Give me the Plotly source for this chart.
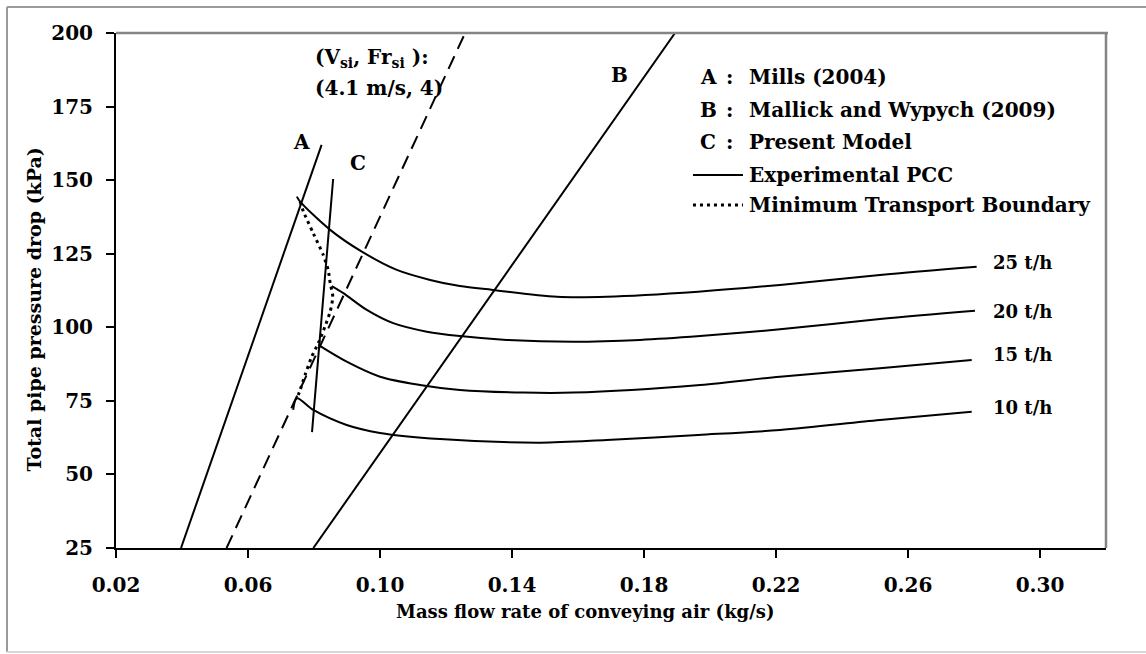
import plotly.graph_objects as go

# Experimental pipeline characteristic curves (mass flow of air kg/s vs total pressure drop kPa)
air_25 = [0.0748, 0.0758, 0.0849, 0.0945, 0.1051, 0.1152, 0.1242, 0.1342, 0.1536, 0.1687, 0.1964, 0.2212, 0.2515, 0.2808]
dp_25 = [144.4, 142.7, 133.1, 125.7, 119.5, 116.1, 114.0, 112.7, 110.4, 110.4, 112.1, 114.4, 117.8, 120.6]

air_20 = [0.0854, 0.0889, 0.0960, 0.1040, 0.1142, 0.1242, 0.1384, 0.1586, 0.1788, 0.1970, 0.2212, 0.2515, 0.2803]
dp_20 = [114.0, 111.6, 105.9, 101.4, 98.5, 97.0, 95.7, 95.1, 95.7, 97.0, 99.3, 102.8, 105.6]

air_15 = [0.0813, 0.0899, 0.1000, 0.1121, 0.1242, 0.1434, 0.1586, 0.1970, 0.2212, 0.2515, 0.2793]
dp_15 = [94.0, 88.3, 83.2, 80.4, 78.7, 77.8, 77.8, 80.4, 83.2, 86.1, 88.9]

air_10 = [0.0737, 0.0748, 0.0798, 0.0899, 0.1000, 0.1182, 0.1485, 0.1687, 0.1964, 0.2212, 0.2515, 0.2793]
dp_10 = [71.9, 75.9, 71.9, 66.8, 64.1, 62.0, 60.8, 61.7, 63.4, 65.1, 68.5, 71.3]

# Minimum transport boundary through the curve minima
mtb_air = [0.0758, 0.0768, 0.0798, 0.0828, 0.0843, 0.0849, 0.0857, 0.0849, 0.0833, 0.0813, 0.0793, 0.0773, 0.0758, 0.0749]
mtb_dp = [142.7, 139.3, 131.9, 124.6, 119.5, 115.0, 110.4, 105.3, 100.2, 94.6, 90.0, 83.8, 78.7, 76.0]

# Boundary lines of the models
line_a_air = [0.0397, 0.0823]
line_a_dp = [25.0, 162.0]
line_b_air = [0.0798, 0.1894]
line_b_dp = [25.0, 200.0]
line_c_air = [0.0794, 0.0858]
line_c_dp = [64.4, 150.4]
froude_air = [0.0535, 0.1258]
froude_dp = [25.0, 200.0]

x_ticks = [0.02, 0.06, 0.10, 0.14, 0.18, 0.22, 0.26, 0.30]
y_ticks = [25, 50, 75, 100, 125, 150, 175, 200]

rate_labels = ["25 t/h", "20 t/h", "15 t/h", "10 t/h"]
rate_label_dp = [121.9, 105.2, 90.6, 72.6]

FONT = "DejaVu Serif"
BLACK = "#000000"


def font(size):
    return dict(family=FONT, size=size, color=BLACK, weight="bold")


fig = go.Figure()

curve_sets = [(air_25, dp_25), (air_20, dp_20), (air_15, dp_15), (air_10, dp_10)]
for ax, dp in curve_sets:
    fig.add_trace(go.Scatter(x=ax, y=dp, mode="lines",
                             line=dict(color=BLACK, width=2, shape="spline", smoothing=0.9),
                             showlegend=False, hoverinfo="skip"))

fig.add_trace(go.Scatter(x=mtb_air, y=mtb_dp, mode="lines",
                         line=dict(color=BLACK, width=3, dash="3px,4px", shape="spline", smoothing=0.6),
                         showlegend=False, hoverinfo="skip"))

for ax, dp in [(line_a_air, line_a_dp), (line_b_air, line_b_dp), (line_c_air, line_c_dp)]:
    fig.add_trace(go.Scatter(x=ax, y=dp, mode="lines", line=dict(color=BLACK, width=2),
                             showlegend=False, hoverinfo="skip"))

fig.add_trace(go.Scatter(x=froude_air, y=froude_dp, mode="lines",
                         line=dict(color=BLACK, width=2, dash="14px,8px"),
                         showlegend=False, hoverinfo="skip"))

annotations = []
# curve labels
for lab, yv in zip(rate_labels, rate_label_dp):
    annotations.append(dict(x=0.2852, y=yv, xref="x", yref="y", text=lab, showarrow=False,
                            xanchor="left", yanchor="middle", font=font(18)))
# model labels
annotations += [
    dict(x=0.0763, y=163.1, text="A", xref="x", yref="y", showarrow=False, font=font(20)),
    dict(x=0.0934, y=155.7, text="C", xref="x", yref="y", showarrow=False, font=font(20)),
    dict(x=0.1727, y=185.7, text="B", xref="x", yref="y", showarrow=False, font=font(20)),
    dict(x=0.0797, y=191.5, text="(V<sub>si</sub>, Fr<sub>si</sub> ):", xref="x", yref="y",
         showarrow=False, xanchor="left", yanchor="middle", font=font(20)),
    dict(x=0.0797, y=181.3, text="(4.1 m/s, 4)", xref="x", yref="y",
         showarrow=False, xanchor="left", yanchor="middle", font=font(20)),
]

# legend block
rows = [("A", "Mills (2004)", 0.9146), ("B", "Mallick and Wypych (2009)", 0.8505),
        ("C", "Present Model", 0.7883)]
for letter, name, py in rows:
    annotations.append(dict(x=0.5879, y=py, xref="paper", yref="paper", text=letter, showarrow=False,
                            xanchor="left", yanchor="middle", font=font(20)))
    annotations.append(dict(x=0.6202, y=py, xref="paper", yref="paper", text=":", showarrow=False,
                            xanchor="center", yanchor="middle", font=font(20)))
    annotations.append(dict(x=0.6374, y=py, xref="paper", yref="paper", text=name, showarrow=False,
                            xanchor="left", yanchor="middle", font=font(20)))
annotations.append(dict(x=0.6374, y=0.7243, xref="paper", yref="paper", text="Experimental PCC",
                        showarrow=False, xanchor="left", yanchor="middle", font=font(20)))
annotations.append(dict(x=0.6374, y=0.6660, xref="paper", yref="paper", text="Minimum Transport Boundary",
                        showarrow=False, xanchor="left", yanchor="middle", font=font(20)))

# axis titles
annotations.append(dict(x=-0.0828, y=0.463, xref="paper", yref="paper",
                        text="Total pipe pressure drop (kPa)", textangle=-90, showarrow=False,
                        xanchor="center", yanchor="middle", font=font(19)))
annotations.append(dict(x=0.474, y=-0.124, xref="paper", yref="paper",
                        text="Mass flow rate of conveying air (kg/s)", showarrow=False,
                        xanchor="center", yanchor="middle", font=font(18)))

shapes = [
    # legend line samples
    dict(type="line", xref="paper", yref="paper", x0=0.5828, x1=0.6333, y0=0.7243, y1=0.7243,
         line=dict(color=BLACK, width=2)),
    dict(type="line", xref="paper", yref="paper", x0=0.5828, x1=0.6333, y0=0.6660, y1=0.6660,
         line=dict(color=BLACK, width=3, dash="3px,4px")),
    # plot frame top/right
    dict(type="line", xref="paper", yref="paper", x0=0, x1=1.002, y0=1, y1=1,
         line=dict(color="#858585", width=2.5)),
    dict(type="line", xref="paper", yref="paper", x0=1, x1=1, y0=0, y1=1,
         line=dict(color="#858585", width=2.5)),
    # outer chart border (left, top, bottom)
    dict(type="line", xref="paper", yref="paper", x0=-0.1101, x1=-0.1101, y0=-0.2019, y1=1.0505,
         line=dict(color="#9a9a9a", width=2)),
    dict(type="line", xref="paper", yref="paper", x0=-0.1101, x1=1.1, y0=1.0505, y1=1.0505,
         line=dict(color="#9a9a9a", width=2)),
    dict(type="line", xref="paper", yref="paper", x0=-0.1101, x1=1.1, y0=-0.2019, y1=-0.2019,
         line=dict(color="#d8d8d8", width=2)),
]

fig.update_layout(
    width=1146, height=654,
    margin=dict(l=116, r=40, t=33, b=106),
    paper_bgcolor="white", plot_bgcolor="white",
    annotations=annotations, shapes=shapes,
    xaxis=dict(range=[0.02, 0.32], tickvals=x_ticks, ticktext=[f"{v:.2f}" for v in x_ticks],
               showgrid=False, zeroline=False, showline=True, linecolor=BLACK, linewidth=2,
               ticks="outside", ticklen=8, tickwidth=1.5, tickcolor=BLACK,
               tickfont=font(20), ticklabelstandoff=10),
    yaxis=dict(range=[25, 200], tickvals=y_ticks, showgrid=False, zeroline=False,
               showline=True, linecolor=BLACK, linewidth=2,
               ticks="outside", ticklen=8, tickwidth=1.5, tickcolor=BLACK,
               tickfont=font(20), ticklabelstandoff=9),
    showlegend=False,
)

fig.write_html("out.html")
